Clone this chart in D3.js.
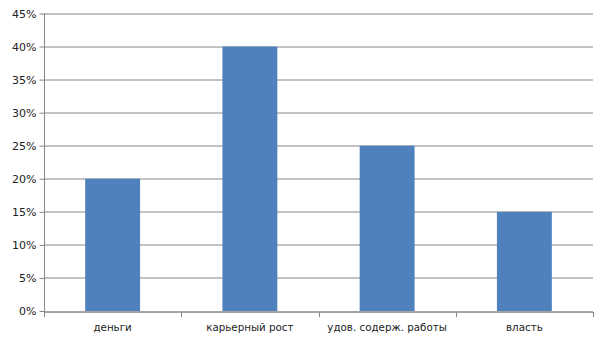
<!DOCTYPE html>
<html>
<head>
<meta charset="utf-8">
<script src="https://cdn.jsdelivr.net/npm/d3@7"></script>
<style>
  body { margin: 0; background: #fff; }
  text { font-family: "DejaVu Sans", Verdana, sans-serif; font-size: 11px; fill: #222; }
</style>
</head>
<body>
<script>
// data
var categories = ["деньги", "карьерный рост", "удов. содерж. работы", "власть"];
var values = [0.20, 0.40, 0.25, 0.15];
var yTicks = [0, 0.05, 0.10, 0.15, 0.20, 0.25, 0.30, 0.35, 0.40, 0.45];

var margin = {top: 13.5, right: 12, bottom: 29, left: 44};
var W = 605, H = 340;
var w = W - margin.left - margin.right;
var h = H - margin.top - margin.bottom;

var svg = d3.select("body").append("svg")
    .attr("width", W)
    .attr("height", H);
var g = svg.append("g")
    .attr("transform", "translate(" + margin.left + "," + margin.top + ")");

var x = d3.scaleBand().domain(categories).range([0, w]).paddingInner(0.6).paddingOuter(0.3);
var xOuter = d3.scaleBand().domain(categories).range([0, w]);
var y = d3.scaleLinear().domain([0, 0.45]).range([h, 0]);

var gridColor = "#868686";

// gridlines
g.selectAll(".grid")
    .data(yTicks)
  .enter().append("line")
    .attr("x1", 0).attr("x2", w)
    .attr("y1", function(d) { return Math.round(y(d)) + 0.5; })
    .attr("y2", function(d) { return Math.round(y(d)) + 0.5; })
    .attr("stroke", gridColor);

// bars
g.selectAll(".bar")
    .data(values)
  .enter().append("rect")
    .attr("x", function(d, i) { return x(categories[i]); })
    .attr("width", x.bandwidth())
    .attr("y", function(d) { return y(d); })
    .attr("height", function(d) { return h - y(d); })
    .attr("fill", "#4F81BD");

// y axis
var yAxis = g.append("g").attr("transform", "translate(0.5,0)")
    .call(d3.axisLeft(y).tickValues(yTicks).tickSize(5).tickPadding(3)
      .tickFormat(function(d) { return Math.round(d * 100) + "%"; }));
yAxis.selectAll("line,path").attr("stroke", gridColor);
yAxis.select(".domain").attr("d", "M0," + y(0.45) + "V" + h);
yAxis.selectAll("text").attr("font-size", null).attr("font-family", null).attr("fill", "#222");

// x axis
var xAxis = g.append("g").attr("transform", "translate(0," + (Math.round(h) + 0.5) + ")");
xAxis.append("line").attr("x1", 0).attr("x2", w).attr("stroke", gridColor);
var edges = categories.map(function(c) { return xOuter(c); }).concat([w]);
xAxis.selectAll(".tk")
    .data(edges)
  .enter().append("line")
    .attr("x1", function(d) { return Math.round(d) + 0.5; })
    .attr("x2", function(d) { return Math.round(d) + 0.5; })
    .attr("y1", 0).attr("y2", 5)
    .attr("stroke", gridColor);
xAxis.selectAll(".lbl")
    .data(categories)
  .enter().append("text")
    .attr("x", function(d) { return xOuter(d) + xOuter.bandwidth() / 2; })
    .attr("y", 19)
    .attr("text-anchor", "middle")
    .style("font-size", "10.3px")
    .text(function(d) { return d; });
</script>
</body>
</html>
